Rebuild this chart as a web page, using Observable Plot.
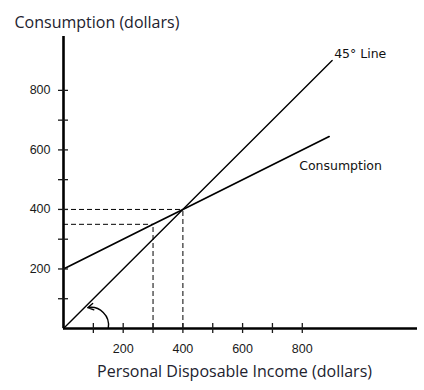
<!DOCTYPE html>
<html>
<head>
<meta charset="utf-8">
<script src="https://cdn.jsdelivr.net/npm/d3@7"></script>
<script src="https://cdn.jsdelivr.net/npm/@observablehq/plot@0.6"></script>
<style>
  html, body { margin: 0; padding: 0; background: #fff; }
</style>
</head>
<body>
<div id="chart"></div>
<script>
// Data
const income = [0, 300, 400, 890];            // personal disposable income (dollars)
const consumption = [200, 350, 400, 645];     // consumption function
const line45X = [0, 900];                     // 45° line
const line45Y = [0, 900];
const xTicks = [100, 200, 300, 400, 500, 600, 700, 800];
const xTickLabels = [200, 400, 600, 800];
const yTicks = [100, 200, 300, 400, 500, 600, 700, 800];
const yTickLabels = [200, 400, 600, 800];
const guideX = [300, 400];                    // dashed guides
const guideY = [350, 400];
const arrowFrom = {x: 150, y: 2};
const arrowTo = {x: 81, y: 70};
const xTitle = "Personal Disposable Income (dollars)";
const yTitle = "Consumption (dollars)";
const label45 = "45° Line";
const labelC = "Consumption";
const xMax = 1186;
const yMax = 981;

const consRows = income.map((x, i) => ({x, y: consumption[i]}));
const line45Rows = line45X.map((x, i) => ({x, y: line45Y[i]}));
const guides = guideX.map((x, i) => ({x, y: guideY[i]}));

const chart = Plot.plot({
  width: 424,
  height: 390,
  marginLeft: 63,
  marginRight: 7,
  marginTop: 36,
  marginBottom: 62,
  style: {fontFamily: "'Liberation Sans', Arial, sans-serif", fontSize: "12.5px", color: "#1a1a1a", background: "#fff"},
  x: {domain: [0, xMax], label: null},
  y: {domain: [0, yMax], label: null},
  marks: [
    // dashed guides
    Plot.ruleY(guides, {y: "y", x1: 0, x2: "x", stroke: "#000", strokeWidth: 1, strokeDasharray: "5,3"}),
    Plot.ruleX(guides, {x: "x", y1: 0, y2: "y", stroke: "#000", strokeWidth: 1, strokeDasharray: "5,3"}),
    // lines
    Plot.line(line45Rows, {x: "x", y: "y", stroke: "#000", strokeWidth: 1.4}),
    Plot.line(consRows, {x: "x", y: "y", stroke: "#000", strokeWidth: 1.7}),
    // axes lines
    Plot.ruleX([0], {stroke: "#000", strokeWidth: 2.6}),
    Plot.ruleY([0], {stroke: "#000", strokeWidth: 2.6}),
    // ticks crossing the axes
    Plot.axisY(yTicks, {tickSize: 10, dx: 5, tickFormat: () => "", strokeWidth: 1.3, label: null}),
    Plot.axisX(xTicks, {tickSize: 10, dy: -5, tickFormat: () => "", strokeWidth: 1.3, label: null}),
    // tick labels
    Plot.axisY(yTickLabels, {tickSize: 0, tickPadding: 13, label: null, fill: "#1a1a1a"}),
    Plot.axisX(xTickLabels, {tickSize: 0, tickPadding: 16, label: null, fill: "#1a1a1a"}),
    // curved arrow marking the angle
    Plot.arrow([{x1: arrowFrom.x, y1: arrowFrom.y, x2: arrowTo.x, y2: arrowTo.y}], {
      x1: "x1", y1: "y1", x2: "x2", y2: "y2", bend: -55, headLength: 7, stroke: "#000", strokeWidth: 1.4
    }),
    // line labels
    Plot.text([line45Rows[line45Rows.length - 1]], {x: "x", y: "y", text: () => label45, textAnchor: "start", lineAnchor: "middle", dx: 2, dy: -7,
      fontFamily: "'DejaVu Sans', sans-serif", fontSize: 12.5, fill: "#111"}),
    Plot.text([consRows[consRows.length - 1]], {x: "x", y: "y", text: () => labelC, textAnchor: "start", lineAnchor: "middle", dx: -30, dy: 29,
      fontFamily: "'DejaVu Sans', sans-serif", fontSize: 12.5, fill: "#111"}),
    // axis titles
    Plot.text([yTitle], {frameAnchor: "top-left", text: d => d, textAnchor: "start", lineAnchor: "middle", dx: -49, dy: -14,
      fontFamily: "'Open Sans', sans-serif", fontSize: 16, fill: "#22222e"}),
    Plot.text([xTitle], {frameAnchor: "bottom", text: d => d, textAnchor: "middle", lineAnchor: "middle", dx: -6, dy: 43,
      fontFamily: "'Open Sans', sans-serif", fontSize: 16, fill: "#22222e"})
  ]
});
document.getElementById("chart").appendChild(chart);
</script>
</body>
</html>
